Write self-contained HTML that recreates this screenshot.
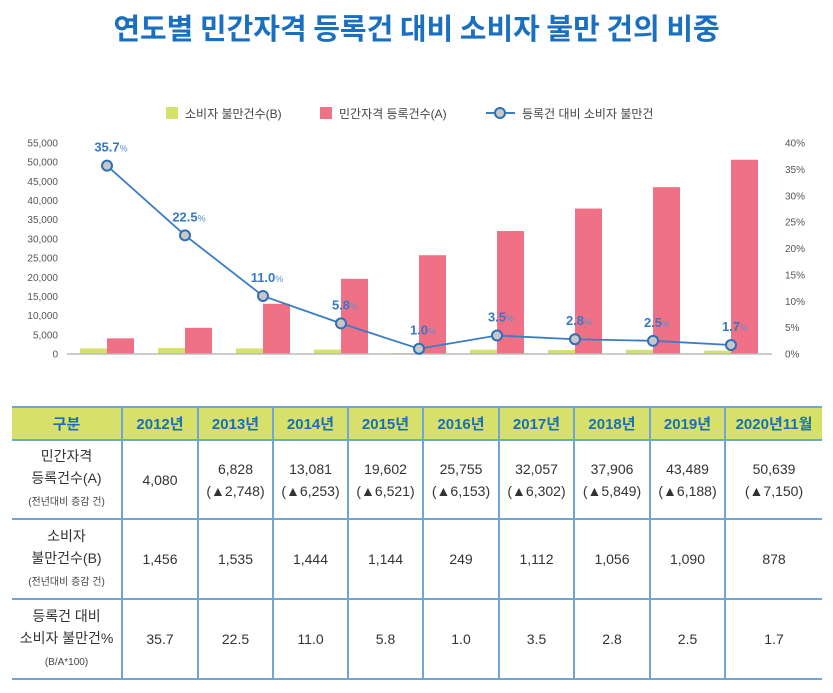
<!DOCTYPE html>
<html><head><meta charset="utf-8">
<style>
body{margin:0;width:833px;height:693px;background:#fff;font-family:"Liberation Sans","Noto Sans CJK KR",sans-serif;overflow:hidden;position:relative}
h1{position:absolute;left:0;top:6px;width:833px;text-align:center;margin:0;font-size:29px;font-weight:bold;color:#1a6fc0;font-family:"Noto Sans CJK KR",sans-serif;letter-spacing:0px}
svg{position:absolute;left:0;top:0}
table{position:absolute;left:12px;top:406px;border-collapse:collapse;font-family:"Liberation Sans","Noto Sans CJK KR",sans-serif;color:#333}
td,th{border:2px solid #6fa6d6;text-align:center;padding:0;font-weight:normal}
th{background:#d7e06a;color:#1a6fb8;font-weight:bold;font-size:15px;height:31px}
td{font-size:14px;line-height:22px}
.s{font-size:10px;color:#444}
tr td:first-child, tr th:first-child{border-left:none}
tr td:last-child, tr th:last-child{border-right:none}
</style></head><body>
<h1>연도별 민간자격 등록건 대비 소비자 불만 건의 비중</h1>
<svg id="chart" width="833" height="400"></svg>
<table>
<tr><th style="width:109px">구분</th><th style="width:74px">2012년</th><th style="width:73px">2013년</th><th style="width:73px">2014년</th><th style="width:73px">2015년</th><th style="width:74px">2016년</th><th style="width:73px">2017년</th><th style="width:74px">2018년</th><th style="width:73px">2019년</th><th style="width:96px">2020년11월</th></tr>
<tr style="height:79px"><td>민간자격<br>등록건수(A)<br><span class="s">(전년대비 증감 건)</span></td><td>4,080</td><td>6,828<br>(▲2,748)</td><td>13,081<br>(▲6,253)</td><td>19,602<br>(▲6,521)</td><td>25,755<br>(▲6,153)</td><td>32,057<br>(▲6,302)</td><td>37,906<br>(▲5,849)</td><td>43,489<br>(▲6,188)</td><td>50,639<br>(▲7,150)</td></tr>
<tr style="height:80px"><td>소비자<br>불만건수(B)<br><span class="s">(전년대비 증감 건)</span></td><td>1,456</td><td>1,535</td><td>1,444</td><td>1,144</td><td>249</td><td>1,112</td><td>1,056</td><td>1,090</td><td>878</td></tr>
<tr style="height:80px"><td>등록건 대비<br>소비자 불만건%<br><span class="s">(B/A*100)</span></td><td>35.7</td><td>22.5</td><td>11.0</td><td>5.8</td><td>1.0</td><td>3.5</td><td>2.8</td><td>2.5</td><td>1.7</td></tr>
</table>
<script>
const categories=["2012","2013","2014","2015","2016","2017","2018","2019","2020.11"];
const registrations=[4080,6828,13081,19602,25755,32057,37906,43489,50639];
const complaints=[1456,1535,1444,1144,249,1112,1056,1090,878];
const ratios=[35.7,22.5,11.0,5.8,1.0,3.5,2.8,2.5,1.7];
const leftTicks=[0,5000,10000,15000,20000,25000,30000,35000,40000,45000,50000,55000];
const rightTicks=[0,5,10,15,20,25,30,35,40];
const NS="http://www.w3.org/2000/svg";
const svg=document.getElementById('chart');
const x0=68,step=78,yBase=354,yTop=143;
const yL=v=>yBase-(v/55000)*(yBase-yTop);
const yR=v=>yBase-(v/40)*(yBase-yTop);
const xc=i=>x0+step*(i+0.5);
function mk(t,a,txt){const e=document.createElementNS(NS,t);for(const k in a)e.setAttribute(k,a[k]);if(txt!==undefined)e.textContent=txt;svg.appendChild(e);return e;}
leftTicks.forEach(v=>{const e=mk('text',{x:58,y:yL(v)+3.5,'text-anchor':'end','font-size':10,fill:'#555'},v.toLocaleString('en-US'));

});
rightTicks.forEach(v=>{const e=mk('text',{x:785,y:yR(v)+3.5,'font-size':10,fill:'#555'},v+'%');

});
categories.forEach((c,i)=>{
const g=mk('rect',{x:xc(i)-27,y:yL(complaints[i]),width:27,height:yBase-yL(complaints[i]),fill:'#d4e16a'});


const p=mk('rect',{x:xc(i),y:yL(registrations[i]),width:27,height:yBase-yL(registrations[i]),fill:'#f07085'});


});
const ax=mk('line',{x1:67,x2:772,y1:yBase,y2:yBase,stroke:'#bbb','stroke-width':1.5});


const ln=mk('polyline',{points:ratios.map((r,i)=>xc(i)+','+yR(r)).join(' '),fill:'none',stroke:'#3b7cc4','stroke-width':1.8});


ratios.forEach((r,i)=>{
const c=mk('circle',{cx:xc(i),cy:yR(r),r:5,fill:'#c8c8c8',stroke:'#2e6fb8','stroke-width':2});


const t=mk('text',{x:xc(i)+4,y:yR(r)-14,'text-anchor':'middle','font-size':13,'font-weight':'bold',fill:'#3578c4'});


t.innerHTML=r.toFixed(1)+'<tspan font-size="9" font-weight="normal" fill="#5a90d0">%</tspan>';
});
const l1=mk('rect',{x:166,y:107,width:12,height:12,fill:'#d4e16a'});
mk('text',{x:185,y:118,'font-size':12,fill:'#444'},'소비자 불만건수(B)');
const l2=mk('rect',{x:320,y:107,width:12,height:12,fill:'#f07085'});
mk('text',{x:339,y:118,'font-size':12,fill:'#444'},'민간자격 등록건수(A)');
mk('line',{x1:486,x2:515,y1:113,y2:113,stroke:'#3b7cc4','stroke-width':2});
const l3=mk('circle',{cx:500,cy:113,r:5,fill:'#c8c8c8',stroke:'#2e6fb8','stroke-width':2});
mk('text',{x:522,y:118,'font-size':12,fill:'#444'},'등록건 대비 소비자 불만건');
</script>
</body></html>
